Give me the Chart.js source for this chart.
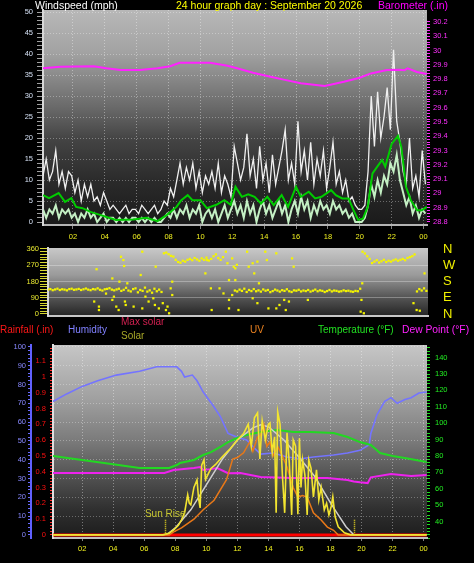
<!DOCTYPE html>
<html><head><meta charset="utf-8">
<script src="https://cdn.jsdelivr.net/npm/chart.js@4.4.1/dist/chart.umd.min.js"></script>
<style>
html,body{margin:0;padding:0;background:#000;}
#wrap{position:relative;width:474px;height:563px;overflow:hidden;background:#000;font-family:"Liberation Sans",Arial,sans-serif;}
canvas{position:absolute;left:0;}
.t{position:absolute;white-space:nowrap;line-height:12px;}
</style></head><body>
<div id="wrap">
<canvas id="c1" width="474" height="245" style="top:0px"></canvas>
<canvas id="c2" width="474" height="84" style="top:240px"></canvas>
<canvas id="c3" width="474" height="243" style="top:320px"></canvas>
<div class="t" style="left:35px;top:-1px;font-size:10.5px;color:#ffffff">Windspeed (mph)</div>
<div class="t" style="left:176px;top:-1px;font-size:10.5px;color:#ffff00">24 hour graph day : September 20 2026</div>
<div class="t" style="left:378px;top:-1px;font-size:10.5px;color:#ff00ff">Barometer (.in)</div>
<div class="t" style="left:0px;top:324px;font-size:10px;color:#ff1818">Rainfall (.in)</div>
<div class="t" style="left:68px;top:324px;font-size:10px;color:#8080ff">Humidity</div>
<div class="t" style="left:121px;top:316px;font-size:10px;color:#d02050">Max solar</div>
<div class="t" style="left:121px;top:330px;font-size:10px;color:#a8a828">Solar</div>
<div class="t" style="left:250px;top:324px;font-size:10px;color:#e88020">UV</div>
<div class="t" style="left:318px;top:324px;font-size:10px;color:#22e022">Temperature (°F)</div>
<div class="t" style="left:402px;top:324px;font-size:10.3px;color:#ff22ff">Dew Point (°F)</div>
</div>
<script>
// ================= DATA =================
const hourTicks = [2,4,6,8,10,12,14,16,18,20,22,24];

// Wind (mph) sampled every 0.2 h from 0.12 h
const windStart = 0.12, windStep = 0.2;
const gust = [11,15,10,12,17,9,12,8,12,11,
  7,10,5,9,6,9,5,6,4,7,
  5,3,4,3,2,3,4,2,3,3,
  2,4,3,2,3,4,2,3,5,4,
  8,6,10,14,9,13,10,14,8,12,
  7,11,9,12,8,14,7,11,9,6,
  18,14,10,13,21,11,15,8,18,10,
  14,7,16,9,13,17,22,10,14,9,
  24,12,17,10,19,9,15,11,17,8,
  13,19,9,12,7,10,5,6,4,3,
  3,4,12,30,18,31,20,25,32,22,
  41,24,19,12,9,20,8,11,6,17,
  9];
const speed = [3,1,3,2,4,1,3,2,3,1,
  2,0,2,1,3,1,2,0,1,2,
  0,1,1,0,1,0,1,0,1,1,
  0,1,0,1,0,1,0,0,1,2,
  1,3,1,3,2,4,1,3,2,4,
  0,2,3,1,3,0,2,4,1,3,
  5,2,4,1,5,2,4,0,3,5,
  2,4,1,3,5,2,4,0,3,5,
  2,6,3,5,1,4,2,5,3,4,
  2,5,3,4,2,3,1,2,0,0,
  0,1,4,9,6,10,7,11,9,14,
  12,16,10,7,4,6,2,4,1,3,
  2];
const avgT = [0.12,0.5,1.1,1.5,1.9,2.2,2.6,3.1,3.7,4.1,4.7,5.8,6.6,7.3,7.9,8.5,8.8,9.2,9.5,10.0,10.4,11.0,11.5,11.9,12.2,12.6,13.0,13.4,13.8,14.2,14.6,15.1,15.5,16.0,16.3,16.8,17.2,17.6,18.2,18.5,18.9,19.3,19.6,19.9,20.2,20.5,20.8,21.1,21.4,21.6,22.0,22.4,22.6,22.9,23.2,23.6,23.9,24.2];
const avgV = [6.4,5.7,6.9,4.8,5.7,3.6,3.3,2.4,1.7,1.2,0.5,0.6,1.0,0.2,1.7,3.6,5.2,6.4,5.2,5.2,3.3,4.1,5.2,4.1,8.4,6.0,6.6,6.0,4.4,6.0,4.0,6.4,3.6,8.4,6.0,7.2,5.6,6.0,7.6,6.4,5.6,5.6,2.9,0.5,0.8,3.6,11.6,13.2,14.8,13.2,18.6,20.5,18.0,8.4,5.2,2.8,2.8,3.6];

// Barometer (inHg)
const baroT = [0.12,1.2,3.3,4.1,5.0,6.2,7.3,8.1,8.7,9.6,10.6,11.7,12.3,13.3,14.4,15.3,16.3,17.8,19.0,20.0,20.7,21.7,22.5,22.8,23.0,23.6,24.2];
const baroV = [29.876,29.887,29.89,29.876,29.864,29.864,29.876,29.89,29.915,29.915,29.915,29.894,29.876,29.845,29.817,29.795,29.771,29.752,29.782,29.81,29.84,29.864,29.865,29.862,29.876,29.85,29.836];

// Wind direction (degrees): dense bands every 0.15 h + scattered readings
const dirStep = 0.15;
const dirBand1Start = 0.12;
const dirBand1 = [135,138,132,136,140,133,137,135,131,138,
  140,134,136,139,133,137,141,135,132,138,
  136,142,134,130,137,139,143,135,131,136,
  140,128,134,145,130,125,138,142,120,133,
  128,146,124,131,118,140,126,135,122];
const dirBand2Start = 7.47;
const dirBand2 = [336,340,331,322,318,300,288,284,295,290,300,305,298,310,302,295,308,300,312,296,305,320,330,310,300,315];
const dirBand3Start = 11.97;
const dirBand3 = [130,125,135,128,140,122,133,127,138,126,
  131,124,136,129,133,121,127,135,130,124,
  132,128,137,126,122,131,129,134,125,130,
  127,133,124,129,135,126,131,128,122,127,
  133,125,130,128,124,126,131,127,129,125,
  123,128,126,140];
const dirBand4Start = 20.07;
const dirBand4 = [345,335,320,305,282,290,298,285,292,300,288,295,290,297,302,295,300,305,298,310,315,320,330];
const dirBand5Start = 23.52;
const dirBand5 = [125,138,130,142,128];
const dirScT = [3.05,3.2,3.35,3.35,3.8,4.2,4.2,4.3,4.45,4.6,4.65,4.75,4.9,4.95,5.0,5.05,5.15,5.55,6.0,6.1,6.1,6.3,6.5,6.8,6.9,6.95,7.15,7.4,7.6,7.7,7.8,7.9,8.0,8.0,10.1,10.2,10.45,10.5,11.0,11.25,11.4,11.5,11.6,11.6,11.6,11.8,11.9,12.0,12.1,11.8,12.0,12.2,12.75,12.85,13.1,13.2,13.4,13.1,13.4,13.5,13.9,14.0,14.1,14.6,14.6,14.8,15.1,15.2,15.4,15.6,15.7,16.6,20.0,20.05,19.95,20.15,23.3,23.5,23.7,24.0];
const dirScV = [69,248,41,22,113,197,78,96,41,22,179,317,299,266,69,50,170,41,216,345,31,96,69,87,50,262,31,60,22,41,4,142,179,105,225,299,142,22,142,114,345,281,188,78,31,308,262,253,272,105,188,22,345,262,281,225,290,87,60,170,345,299,31,336,31,50,78,22,69,308,262,78,78,170,13,4,60,22,18,225];
const compass = {0:'N',90:'E',180:'S',270:'W',360:'N'};

// Lower panel
const humT = [0.12,1.0,2.0,3.0,4.2,5.7,6.8,8.1,8.4,8.6,9.1,9.4,9.8,10.5,10.9,11.4,12.0,12.6,13.0,13.5,14.3,15.2,16.1,16.9,18.2,19.1,19.9,20.5,20.6,21.0,21.5,21.9,22.3,22.8,23.2,23.7,24.2];
const humV = [71,75,79,82,85,87,89.4,89.4,87,84,85,82,76,68,63,54,52,50.5,47,43,43.6,41.5,40.5,41.5,42.5,43.6,45,48,54,64,71,73,70,72,73,75.5,76];
const tempT = [0.12,2.0,4.0,5.7,7.0,7.6,8.1,8.3,9.2,9.8,10.3,10.9,11.4,12.0,12.6,13.5,14.6,15.6,16.7,18.2,19.1,19.9,20.6,21.2,22.0,22.8,24.2];
const tempV = [80,77.6,75,72.7,72.7,72.7,74.5,75.7,77.6,80.6,82.4,85.5,88.5,91,92.8,94.6,95.9,94.6,94.6,94,91.6,88.5,86.7,81.8,80,78.8,76.3];
const dewT = [0.12,3.0,6.4,7.3,7.9,9.2,9.6,9.8,10.3,10.7,11.4,12.2,13.5,15.6,17.8,19.1,19.5,19.9,20.4,20.6,21.9,23.2,24.2];
const dewV = [69.6,69.6,69.6,69.6,71.5,72.7,73.3,71.5,72,72.7,69.5,69.6,67.2,66.6,66.6,65.4,64.5,64,63.5,67,69,67.8,68.4];
const rainT = [0.12,24.2];
const rainV = [0,0];
const maxSolarT = [0.12,7.3,7.5,8.0,9.0,10.0,11.0,12.0,13.0,13.5,14.0,15.0,16.0,17.0,18.0,18.5,19.0,19.5,24.2];
const maxSolarV = [0,0,5,44,158,316,474,600,676,695,683,600,487,367,202,126,51,0,0];
const solarT = [0.12,7.2,7.6,7.9,8.2,8.4,8.6,8.8,8.9,9.0,
  9.2,9.4,9.5,9.6,9.7,9.85,9.95,10.1,10.3,10.6,
  11.0,11.5,12.0,12.4,12.7,12.9,13.1,13.3,13.45,13.6,
  13.8,14.0,14.1,14.25,14.4,14.5,14.6,14.75,14.9,15.05,
  15.2,15.35,15.5,15.6,15.75,15.9,16.0,16.1,16.2,16.35,
  16.5,16.6,16.75,16.9,17.1,17.25,17.4,17.6,17.75,17.9,
  18.05,18.15,18.3,18.5,18.9,19.3,24.2];
const solarV = [0,0,10,32,60,95,140,253,200,190,
  300,348,230,170,440,474,350,380,420,445,
  490,540,600,640,700,560,740,771,480,720,
  600,700,708,520,620,139,777,700,380,139,
  645,450,126,600,560,130,610,300,474,380,
  126,474,420,240,411,221,300,158,200,126,
  180,240,114,51,13,0,0];
const uvT = [0.12,7.6,7.9,8.4,9.2,9.8,10.5,11.3,11.7,12.0,12.4,12.8,13.0,13.3,13.5,13.7,13.9,14.1,14.3,14.6,14.9,15.2,15.6,15.9,16.2,16.5,16.9,17.4,17.8,18.2,18.5,24.2];
const uvV = [0,0,0.2,0.45,1.0,1.6,2.2,3.5,4.8,4.9,5.2,5.9,5.3,6.2,6.3,7.0,5.6,5.9,5.0,5.6,5.0,4.3,3.0,2.4,2.5,2.4,1.4,0.95,0.5,0.3,0,0];
const sunRise = 7.35, sunSet = 19.5;

// ================= HELPERS =================
function pts(T, V){ return V.map((v,i)=>({x:T[i], y:v})); }
function reg(start, step, V){ return V.map((v,i)=>({x:+(start+i*step).toFixed(3), y:v})); }
function range(a, b, s){ const out=[]; const n=Math.round((b-a)/s); for(let i=0;i<=n;i++) out.push(+(a+i*s).toFixed(4)); return out; }
function isMult(v, m){ const r=v/m; return Math.abs(r-Math.round(r))<1e-6; }
function hourLabel(v){ return v===24 ? '00' : String(v).padStart(2,'0'); }
const fixW = w => s => { s.width = w; };
const fixH = h => s => { s.height = h; };
const setTicks = arr => s => { s.ticks = arr.map(v=>({value:v})); };
const tickFont = {family:'Liberation Sans', size:7.5};
const NONE = 'rgba(0,0,0,0)';

const bgPlugin = {
  id:'bg',
  beforeDraw(chart, args, opts){
    const {ctx, chartArea:a} = chart;
    const g = ctx.createLinearGradient(0, a.top, 0, a.bottom);
    opts.stops.forEach(s => g.addColorStop(s[0], s[1]));
    ctx.save(); ctx.fillStyle = g;
    ctx.fillRect(a.left, a.top, a.right-a.left, a.bottom-a.top);
    ctx.restore();
  }
};
const sunPlugin = {
  id:'sun',
  afterDatasetsDraw(chart){
    const {ctx} = chart; const x = chart.scales.x, ys = chart.scales.ys;
    ctx.save();
    ctx.strokeStyle = '#e8d820'; ctx.lineWidth = 1.5; ctx.setLineDash([1,1]);
    [sunRise, sunSet].forEach(t => {
      const px = Math.round(x.getPixelForValue(t)) + 0.5;
      ctx.beginPath(); ctx.moveTo(px, ys.getPixelForValue(0)); ctx.lineTo(px, ys.getPixelForValue(100)); ctx.stroke();
    });
    ctx.setLineDash([]);
    ctx.fillStyle = '#c8c832'; ctx.font = '10px "Liberation Sans"';
    ctx.textAlign = 'center'; ctx.textBaseline = 'bottom';
    ctx.fillText('Sun Rise', x.getPixelForValue(sunRise), ys.getPixelForValue(100));
    ctx.restore();
  }
};
const base = {
  responsive:false, maintainAspectRatio:false, animation:false, events:[],
  elements:{point:{radius:0}, line:{tension:0}},
};

// ================= PANEL 1: wind + barometer =================
new Chart(document.getElementById('c1'), {
  type:'line',
  data:{datasets:[
    {data:pts(baroT,baroV), yAxisID:'yb', borderColor:'#ff22ff', borderWidth:2, order:0},
    {data:pts(avgT,avgV), yAxisID:'y', borderColor:'#00cc00', borderWidth:2, order:1},
    {data:reg(windStart,windStep,speed), yAxisID:'y', borderColor:'#c4f0c4', borderWidth:2, order:2},
    {data:reg(windStart,windStep,gust), yAxisID:'y', borderColor:'#f0f0f0', borderWidth:1.3, order:3}
  ]},
  options:Object.assign({}, base, {
    layout:{padding:{top:10,left:0,right:0,bottom:0}},
    plugins:{legend:{display:false}, tooltip:{enabled:false},
      bg:{stops:[[0,'#b8b8b8'],[0.2,'#a2a2a2'],[0.45,'#6a6a6a'],[0.6,'#444444'],[0.8,'#2a2a2a'],[1,'#1a1a1a']]}},
    scales:{
      x:{type:'linear', min:0.12, max:24.22, afterFit:fixH(20), afterBuildTicks:setTicks(hourTicks),
        ticks:{color:'#f0f020', font:tickFont, padding:3, autoSkip:false, maxRotation:0, callback:v=>hourLabel(v)},
        grid:{color:'rgba(255,255,255,0.38)', tickColor:'#808080', tickLength:4},
        border:{display:true, color:'#b4b4b4', width:2, dash:[1,2]}},
      y:{position:'left', min:-0.71, max:50.48, afterFit:fixW(43), afterBuildTicks:setTicks(range(0,50,1)),
        ticks:{color:'#d4e0f4', font:tickFont, padding:4, autoSkip:false, callback:v=>isMult(v,5)?String(v):''},
        grid:{color:c=>(c.tick && c.tick.value>0 && isMult(c.tick.value,5))?'rgba(255,255,255,0.33)':NONE, tickColor:'#a0a0a0', tickLength:6},
        border:{display:true, color:'#d8d8d8', width:2, dash:[1,2]}},
      yb:{position:'right', min:28.779, max:30.284, afterFit:fixW(47), afterBuildTicks:setTicks(range(28.8,30.2,0.02)),
        ticks:{color:'#ff30ff', font:tickFont, padding:3, autoSkip:false, callback:v=>isMult(v,0.1)?String(+v.toFixed(1)):''},
        grid:{drawOnChartArea:false, tickColor:'#ff30ff', tickLength:3},
        border:{display:false}}
    }
  }),
  plugins:[bgPlugin]
});

// ================= PANEL 2: wind direction =================
const dotStyle = {type:'scatter', showLine:false, pointStyle:'rect', pointRadius:1.6, pointBorderWidth:0, pointBackgroundColor:'#f4f400', backgroundColor:'#f4f400', borderColor:'#f4f400'};
new Chart(document.getElementById('c2'), {
  type:'scatter',
  data:{datasets:[
    Object.assign({data:reg(dirBand1Start,dirStep,dirBand1)}, dotStyle),
    Object.assign({data:reg(dirBand2Start,dirStep,dirBand2)}, dotStyle),
    Object.assign({data:reg(dirBand3Start,dirStep,dirBand3)}, dotStyle),
    Object.assign({data:reg(dirBand4Start,dirStep,dirBand4)}, dotStyle),
    Object.assign({data:reg(dirBand5Start,dirStep,dirBand5)}, dotStyle),
    Object.assign({data:pts(dirScT,dirScV)}, dotStyle)
  ]},
  options:Object.assign({}, base, {
    layout:{padding:{top:8,left:0,right:0,bottom:0}},
    plugins:{legend:{display:false}, tooltip:{enabled:false},
      bg:{stops:[[0,'#c8c8c8'],[0.4,'#9a9a9a'],[0.7,'#5a5a5a'],[1,'#242424']]}},
    scales:{
      x:{type:'linear', min:0.12, max:24.22, afterFit:fixH(8),
        ticks:{display:false}, grid:{display:false},
        border:{display:true, color:'#c8c8c8', width:2}},
      y:{position:'left', min:-11.1, max:365.5, afterFit:fixW(48), afterBuildTicks:setTicks(range(0,360,15)),
        ticks:{color:'#e8e830', font:{family:'Liberation Sans', size:7.5, lineHeight:1}, padding:1, autoSkip:false, callback:v=>isMult(v,90)?String(v):''},
        grid:{color:c=>(c.tick && c.tick.value>0 && c.tick.value<360 && isMult(c.tick.value,90))?'rgba(255,255,255,0.3)':NONE, tickColor:'#d8d830', tickLength:8},
        border:{display:true, color:'#d8d8d8', width:2}},
      yd:{position:'right', min:-11.1, max:365.5, afterFit:fixW(46), afterBuildTicks:setTicks([0,90,180,270,360]),
        ticks:{color:'#f0f000', font:{family:'Liberation Sans', size:13, lineHeight:1}, padding:0, autoSkip:false, callback:v=>compass[v]},
        grid:{drawOnChartArea:false, drawTicks:true, tickLength:15, tickColor:NONE},
        border:{display:false}}
    }
  }),
  plugins:[bgPlugin]
});

// ================= PANEL 3: humidity, temperature, solar, UV =================
new Chart(document.getElementById('c3'), {
  type:'line',
  data:{datasets:[
    {data:pts(solarT,solarV), yAxisID:'ys', borderColor:'#f2e430', borderWidth:1.6, order:0},
    {data:pts(uvT,uvV), yAxisID:'yu', borderColor:'#e87818', borderWidth:1.5, order:1},
    {data:pts(maxSolarT,maxSolarV), yAxisID:'ys', borderColor:'#cfcfcf', borderWidth:1.5, order:2},
    {data:pts(tempT,tempV), yAxisID:'yt', borderColor:'#22d822', borderWidth:2, order:3},
    {data:pts(humT,humV), yAxisID:'yh', borderColor:'#7474ff', borderWidth:1.6, order:4},
    {data:pts(dewT,dewV), yAxisID:'yt', borderColor:'#ee22ee', borderWidth:2, order:5},
    {data:pts(rainT,rainV), yAxisID:'yr', borderColor:'#ff0000', borderWidth:3, order:6}
  ]},
  options:Object.assign({}, base, {
    layout:{padding:{top:25,left:0,right:0,bottom:0}},
    plugins:{legend:{display:false}, tooltip:{enabled:false},
      bg:{stops:[[0,'#c6c6c6'],[0.28,'#a0a0a0'],[0.5,'#7a7a7a'],[0.7,'#4e4e4e'],[0.85,'#303030'],[1,'#1c1c1c']]}},
    scales:{
      x:{type:'linear', min:0.12, max:24.22, afterFit:fixH(25), afterBuildTicks:setTicks(hourTicks),
        ticks:{color:'#f0f020', font:tickFont, padding:3, autoSkip:false, maxRotation:0, callback:v=>hourLabel(v)},
        grid:{color:'rgba(255,255,255,0.38)', tickColor:'#808080', tickLength:3},
        border:{display:true, color:'#c0c0c0', width:2, dash:[1,2]}},
      yh:{position:'left', weight:1, min:-1.6, max:101, afterFit:fixW(31), afterBuildTicks:setTicks(range(0,100,2)),
        ticks:{color:'#8888ff', font:tickFont, padding:2, autoSkip:false, callback:v=>isMult(v,10)?String(v):''},
        grid:{color:c=>(c.tick && c.tick.value>0 && isMult(c.tick.value,10))?'rgba(255,255,255,0.3)':NONE, tickColor:'#6a6aff', tickLength:3},
        border:{display:true, color:'#6060ff', width:2, dash:[1,2]}},
      yr:{position:'left', weight:0, min:-0.019, max:1.2025, afterFit:fixW(22), afterBuildTicks:setTicks(range(0,1.18,0.02)),
        ticks:{color:'#ff1010', font:tickFont, padding:4, autoSkip:false, callback:v=>(isMult(v,0.1)&&v<1.15)?String(+v.toFixed(1)):''},
        grid:{drawOnChartArea:false, tickColor:'#ff3030', tickLength:3},
        border:{display:true, color:'#e0e0e0', width:2}},
      yt:{position:'right', min:30, max:147.7, afterFit:fixW(47), afterBuildTicks:setTicks(range(30,146,2)),
        ticks:{color:'#22ee22', font:tickFont, padding:5, autoSkip:false, callback:v=>(isMult(v,10)&&v>=40)?String(v):''},
        grid:{drawOnChartArea:false, tickColor:'#22dd22', tickLength:3},
        border:{display:false}},
      ys:{display:false, min:-20, max:1200},
      yu:{display:false, min:-0.19, max:12.02}
    }
  }),
  plugins:[bgPlugin, sunPlugin]
});
</script>
</body></html>
